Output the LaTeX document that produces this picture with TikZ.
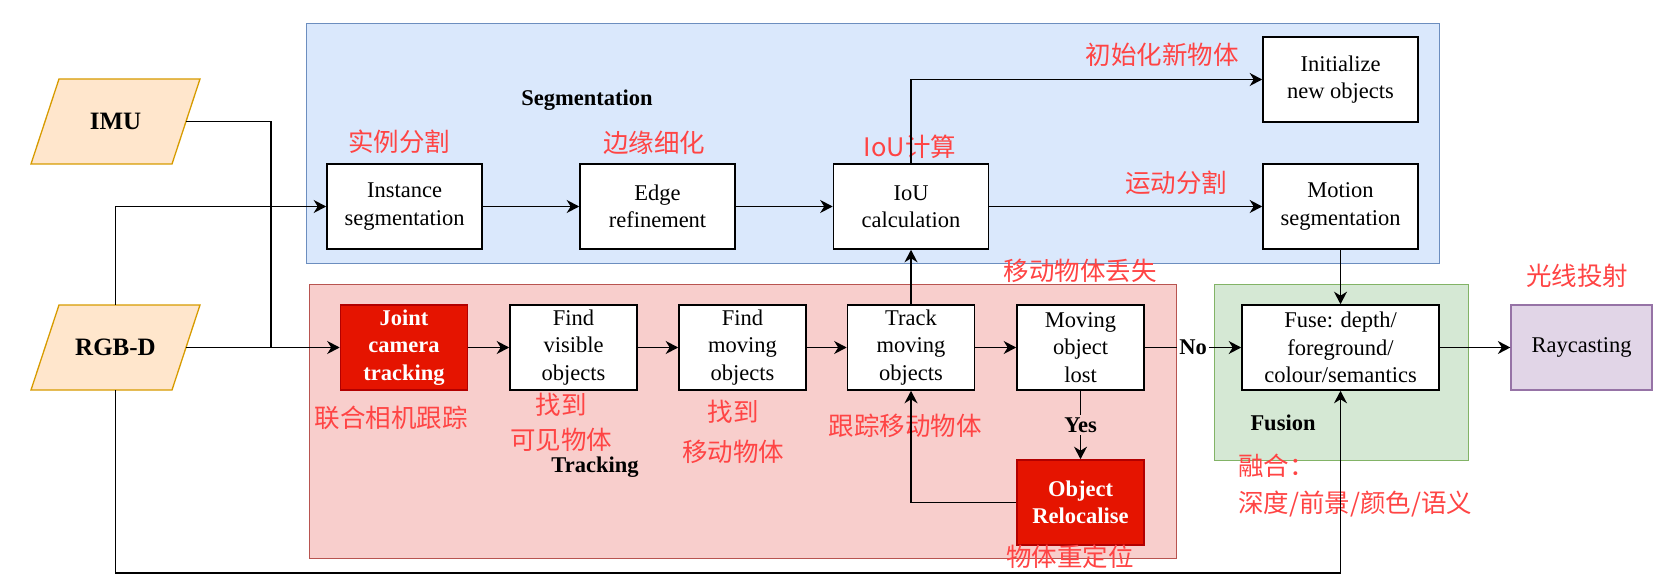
\documentclass[tikz,border=0pt]{standalone}
\usepackage{fontspec}
\setmainfont{Liberation Serif}
\newfontfamily\cjk{Noto Sans CJK SC}
\usetikzlibrary{arrows.meta}
\definecolor{segfill}{HTML}{DAE8FC}
\definecolor{segdraw}{HTML}{6C8EBF}
\definecolor{trkfill}{HTML}{F8CECC}
\definecolor{trkdraw}{HTML}{B85450}
\definecolor{fusfill}{HTML}{D5E8D4}
\definecolor{fusdraw}{HTML}{82B366}
\definecolor{rayfill}{HTML}{E1D5E7}
\definecolor{raydraw}{HTML}{9673A6}
\definecolor{iofill}{HTML}{FFE6CC}
\definecolor{iodraw}{HTML}{D79B00}
\definecolor{redfill}{HTML}{E51400}
\definecolor{reddraw}{HTML}{B20000}
\definecolor{cnred}{HTML}{FF4444}
\tikzset{
 box/.style={draw=black, fill=white, line width=1.6pt, minimum width=155pt, minimum height=85pt, inner sep=0pt, align=center, font=\rmfamily\fontsize{22.5}{27.5}\selectfont},
 tbox/.style={box, minimum width=127pt},
 redbox/.style={tbox, fill=redfill, draw=reddraw, text=white, font=\rmfamily\bfseries\fontsize{22.5}{27.5}\selectfont},
 container/.style={line width=1.3pt, minimum width=#1, inner sep=0pt, anchor=north west},
 arr/.style={line width=1.6pt, -{Stealth[length=12.5pt,width=13pt,inset=4pt]}},
 plain/.style={line width=1.6pt},
 cn/.style={text=cnred, font=\cjk\fontsize{25.5}{35}\selectfont, inner sep=0pt, align=center},
 boldlbl/.style={font=\rmfamily\bfseries\fontsize{22.5}{27.5}\selectfont, inner sep=0pt},
 io/.style={minimum width=141pt, minimum height=85pt, inner sep=0pt, font=\rmfamily\bfseries\fontsize{25}{30}\selectfont},
}
\begin{document}
\begin{tikzpicture}[x=1pt,y=-1pt]
\useasboundingbox (0,0) rectangle (1668,588);
% containers
\node[container=1133pt, minimum height=240pt, fill=segfill, draw=segdraw] (segbg) at (306,23) {};
\node[container=867pt, minimum height=274pt, fill=trkfill, draw=trkdraw] (trkbg) at (309,284) {};
\node[container=254pt, minimum height=176pt, fill=fusfill, draw=fusdraw] (fusbg) at (1214,284) {};
% inputs
\filldraw[fill=iofill, draw=iodraw, line width=1.3pt] (31,164) -- (59,79) -- (200,79) -- (172,164) -- cycle;
\node[io] (imu) at (115.5,121.5) {IMU};
\filldraw[fill=iofill, draw=iodraw, line width=1.3pt] (31,390) -- (59,305) -- (200,305) -- (172,390) -- cycle;
\node[io] (rgbd) at (115.5,347.5) {RGB-D};
% segmentation row
\node[box] (inst) at (404.5,206.5) {Instance\\segmentation};
\node[box] (edge) at (657.5,206.5) {Edge\\refinement};
\node[box] (iou) at (911,206.5) {IoU\\calculation};
\node[box] (motion) at (1340.5,206.5) {Motion\\segmentation};
\node[box] (init) at (1340.5,79.5) {Initialize\\new objects};
% tracking row
\node[redbox] (joint) at (404,347.5) {Joint\\camera\\tracking};
\node[tbox] (findvis) at (573.5,347.5) {Find\\visible\\objects};
\node[tbox] (findmov) at (742.5,347.5) {Find\\moving\\objects};
\node[tbox] (track) at (911,347.5) {Track\\moving\\objects};
\node[tbox] (lost) at (1080.5,347.5) {Moving\\object\\lost};
\node[redbox] (reloc) at (1080.5,502.5) {Object\\Relocalise};
% fusion and raycasting
\node[box, minimum width=197pt] (fuse) at (1340.5,347.5) {Fuse: depth/\\foreground/\\colour/semantics};
\node[box, minimum width=141pt, fill=rayfill, draw=raydraw, line width=1.3pt] (ray) at (1581.5,347.5) {Raycasting};
% group labels
\node[boldlbl] (seglbl) at (587,100) {Segmentation};
\node[boldlbl] (trklbl) at (595,467) {Tracking};
\node[boldlbl] (fuslbl) at (1283,423) {Fusion};
% chinese labels
\node[cn] (c1) at (399,142) {实例分割};
\node[cn] (c2) at (654,143) {边缘细化};
\node[cn] (c3) at (910,147) {IoU计算};
\node[cn] (c4) at (1162,55) {初始化新物体};
\node[cn] (c5) at (1176,183) {运动分割};
\node[cn] (c6) at (1080,271) {移动物体丢失};
\node[cn] (c7) at (391,418) {联合相机跟踪};
\node[cn] (c8) at (561,422.5) {找到\\可见物体};
\node[cn, font=\cjk\fontsize{25.5}{40}\selectfont] (c9) at (733,432) {找到\\移动物体};
\node[cn] (c10) at (905,426) {跟踪移动物体};
\node[cn] (c11) at (1070,557) {物体重定位};
\node[cn, align=left, anchor=west, font=\cjk\fontsize{25.5}{37}\selectfont] (c12) at (1238,485.5) {融合：\\深度/前景/颜色/语义};
\node[cn] (c13) at (1577,276) {光线投射};
% connectors
\coordinate (junc) at (271,347.5);
\coordinate (bl) at (115.5,573);
\draw[plain] (imu.east) -| (junc);
\draw[arr] (rgbd.east) -- (joint.west);
\draw[arr] (rgbd.north) |- (inst.west);
\draw[arr] (rgbd.south) -- (bl) -| (fuse.south);
\draw[arr] (inst) -- (edge);
\draw[arr] (edge) -- (iou);
\draw[arr] (iou) -- (motion);
\draw[arr] (iou.north) |- (init.west);
\draw[arr] (motion.south) -- (fuse.north);
\draw[arr] (joint) -- (findvis);
\draw[arr] (findvis) -- (findmov);
\draw[arr] (findmov) -- (track);
\draw[arr] (track) -- (lost);
\draw[arr] (track.north) -- (iou.south);
\draw[arr] (lost.east) -- node[boldlbl, fill=white, inner sep=2pt] {No} (fuse.west);
\draw[arr] (lost.south) -- node[boldlbl, fill=trkfill, inner sep=3pt] {Yes} (reloc.north);
\draw[arr] (reloc.west) -| (track.south);
\draw[arr] (fuse.east) -- (ray.west);
\end{tikzpicture}
\end{document}
